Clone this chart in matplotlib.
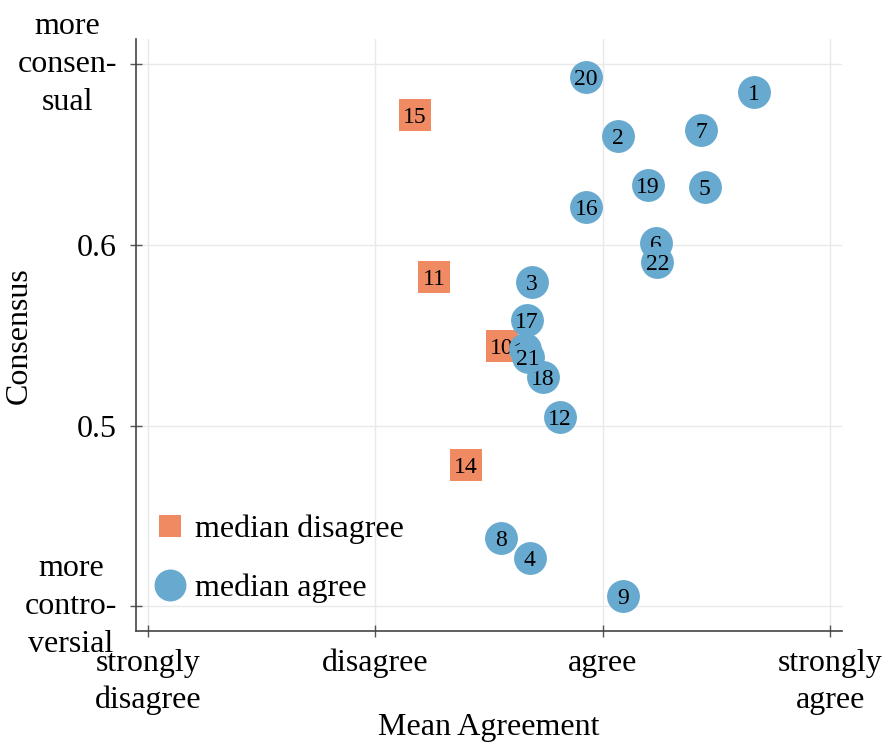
import matplotlib.pyplot as plt
from matplotlib.lines import Line2D

plt.rcParams['font.family'] = ['Liberation Serif', 'DejaVu Serif']

# statements: id, mean agreement (1..4), consensus, median agrees?
ids = [1, 2, 3, 4, 5, 6, 7, 8, 9, 10, 11, 12, 13, 14, 15, 16, 17, 18, 19, 20, 21, 22]
mean_agree = [3.665, 3.065, 2.688, 2.678, 3.447, 3.233, 3.432, 2.553, 3.088, 2.555, 2.257,
              2.812, 2.657, 2.398, 2.172, 2.927, 2.665, 2.736, 3.199, 2.925, 2.670, 3.239]
consensus = [0.6846, 0.6602, 0.5794, 0.4268, 0.6322, 0.6011, 0.6635, 0.4379, 0.4059, 0.5441, 0.5824,
             0.5048, 0.5422, 0.4782, 0.6722, 0.6213, 0.5583, 0.5268, 0.6333, 0.6932, 0.5383, 0.5907]
median_agree = [True, True, True, True, True, True, True, True, True, False, False,
                True, True, False, False, True, True, True, True, True, True, True]

x_ticks = [1, 2, 3, 4]
x_labels = ['strongly\ndisagree', 'disagree', 'agree', 'strongly\nagree']
y_ticks = [0.4, 0.5, 0.6, 0.7]
y_labels = ['more\ncontro-\nversial', '0.5', '0.6', 'more\nconsen-\nsual']

blue = '#67a9cf'
orange = '#ef8a62'

fig = plt.figure(figsize=(8.87, 7.42), dpi=100)
ax = fig.add_axes([0.1533, 0.149, 0.796, 0.798])

z = 3
for i, xv, yv, ag in zip(ids, mean_agree, consensus, median_agree):
    if ag:
        ax.scatter(xv, yv, s=560, marker='o', color=blue, linewidths=0, zorder=z)
    else:
        ax.scatter(xv, yv, s=560, marker='s', color=orange, linewidths=0, zorder=z)
    ax.annotate(str(i), (xv, yv), xytext=(0, -5.8), textcoords='offset points',
                ha='center', va='baseline', fontsize=17, color='black', zorder=z + 1)
    z += 2

ax.set_xlim(0.947, 4.051)
ax.set_ylim(0.3861, 0.7139)
ax.set_xticks(x_ticks)
ax.set_xticklabels(x_labels, multialignment='center', fontsize=23, linespacing=1.35)
ax.set_yticks(y_ticks)
ax.set_yticklabels(y_labels, multialignment='center', fontsize=23, linespacing=1.42)
for lab in ax.get_yticklabels():
    if '\n' in lab.get_text():
        lab.set_verticalalignment('center')
ax.tick_params(direction='inout', length=9, width=1, color='#555555')
ax.tick_params(axis='y', pad=9)
ax.tick_params(axis='x', pad=8)

ax.grid(True, color='#e9e9e9', linewidth=1, zorder=0)
ax.set_axisbelow(True)
for s in ['top', 'right']:
    ax.spines[s].set_visible(False)
for s in ['left', 'bottom']:
    ax.spines[s].set_color('#444444')
    ax.spines[s].set_linewidth(1.2)

ax.set_xlabel('Mean Agreement', fontsize=23)
ax.xaxis.set_label_coords(0.5, -0.138)
ax.set_ylabel('Consensus', fontsize=23)
ax.yaxis.set_label_coords(-0.145, 0.5)

handles = [Line2D([], [], marker='s', linestyle='none', markersize=16, color=orange, markeredgewidth=0),
           Line2D([], [], marker='o', linestyle='none', markersize=23, color=blue, markeredgewidth=0)]
ax.legend(handles, ['median disagree', 'median agree'], loc='lower left', frameon=False,
          fontsize=23, labelspacing=0.9, handletextpad=0.2, handlelength=1.2,
          bbox_to_anchor=(-0.02, 0.0))

fig.savefig('out.png', dpi=100)
